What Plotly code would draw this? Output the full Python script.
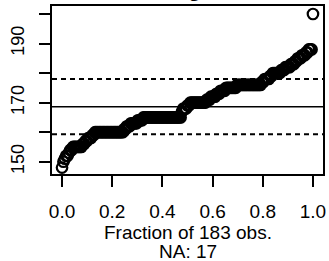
import numpy as np
import plotly.graph_objects as go

heights = [148, 150, 151, 152, 153, 154, 155, 156, 157, 158, 159, 160, 161, 162, 163, 164,
           165, 167, 168, 169, 170, 171, 172, 173, 174, 175, 176, 177, 178, 179, 180, 181,
           182, 183, 184, 185, 186, 187, 188, 200]
counts = [1, 1, 1, 2, 1, 2, 7, 2, 2, 3, 2, 21, 2, 3, 5, 4,
          28, 1, 3, 2, 12, 3, 4, 3, 4, 8, 18, 2, 4, 2, 6, 3,
          4, 3, 2, 3, 3, 2, 3, 1]
n_missing = 17

# reference lines (mean and mean +/- 1 SD)
mean_line = 168.6
sd_lines = [159.3, 178.0]

x_ticks = [0.0, 0.2, 0.4, 0.6, 0.8, 1.0]
x_tick_text = ["0.0", "0.2", "0.4", "0.6", "0.8", "1.0"]
y_ticks = [150, 160, 170, 180, 190, 200]
y_tick_text = ["150", "", "170", "", "190", ""]

values = np.repeat(heights, counts)
n = len(values)
frac = np.arange(n) / (n - 1)

FONT = "Liberation Sans, Arial, sans-serif"

fig = go.Figure()
fig.add_trace(go.Scatter(
    x=frac, y=values, mode="markers",
    marker=dict(symbol="circle-open", size=10.5, color="black", line=dict(width=2.2, color="black")),
    showlegend=False, hoverinfo="skip", cliponaxis=False,
))

shapes = [dict(type="line", xref="paper", x0=0, x1=1, yref="y", y0=mean_line, y1=mean_line,
               line=dict(color="black", width=1.5))]
for v in sd_lines:
    shapes.append(dict(type="line", xref="paper", x0=0, x1=1, yref="y", y0=v, y1=v,
                       line=dict(color="black", width=1.8, dash="5px,4px")))

fig.update_layout(
    width=329, height=261,
    margin=dict(l=52, r=6, t=6, b=87, pad=0, autoexpand=False),
    paper_bgcolor="white", plot_bgcolor="white",
    font=dict(family=FONT, color="black", size=19),
    shapes=shapes,
    annotations=[
        dict(text="<b>Height</b>", xref="paper", yref="paper", x=0.5, y=1.108,
             xanchor="center", yanchor="middle", showarrow=False, font=dict(size=23)),
        dict(text=f"Fraction of {n} obs.", xref="paper", yref="paper", x=0.5, y=-0.351,
             xanchor="center", yanchor="middle", showarrow=False, font=dict(size=19)),
        dict(text=f"NA: {n_missing}", xref="paper", yref="paper", x=0.5, y=-0.464,
             xanchor="center", yanchor="middle", showarrow=False, font=dict(size=19)),
    ],
)
fig.update_xaxes(
    range=[-0.04, 1.04], tickvals=x_ticks, ticktext=x_tick_text, automargin=False,
    ticks="outside", ticklen=11, tickwidth=1.5, tickcolor="black",
    showline=True, linecolor="black", linewidth=1.5, mirror=True,
    showgrid=False, zeroline=False, ticklabelstandoff=8,
    tickfont=dict(size=19),
)
fig.update_yaxes(
    range=[145.84, 202.7], tickvals=y_ticks, ticktext=y_tick_text, automargin=False,
    ticks="outside", ticklen=11, tickwidth=1.5, tickcolor="black",
    showline=True, linecolor="black", linewidth=1.5, mirror=True,
    showgrid=False, zeroline=False, tickangle=-90, ticklabelstandoff=8,
    tickfont=dict(size=18),
)

fig.write_html("out.html", config={"displayModeBar": False},
               post_script="document.body.style.margin='0';document.body.style.overflow='hidden';")
